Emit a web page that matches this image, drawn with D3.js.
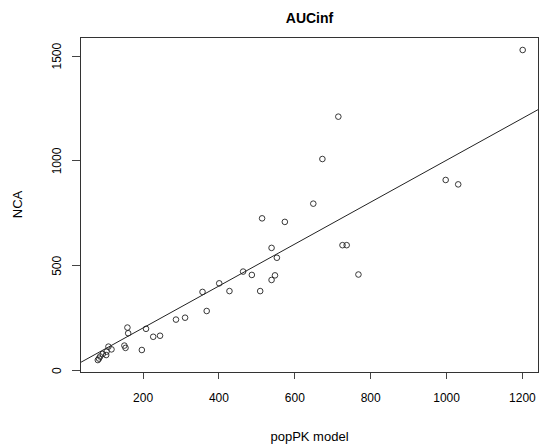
<!DOCTYPE html>
<html>
<head>
<meta charset="utf-8">
<script src="https://cdn.jsdelivr.net/npm/d3@7"></script>
<style>
  body { margin: 0; background: #fff; }
  text { font-family: "Liberation Sans", Arial, sans-serif; fill: #000; }
</style>
</head>
<body>
<div id="chart"></div>
<script>
// AUCinf: popPK model vs NCA
var popPK = [1202, 716, 674, 650, 515, 575, 999, 1032, 540, 554, 727, 738, 769, 488, 465,
             549, 540, 510, 402, 358, 429, 369, 288, 312, 160, 162, 209, 228, 246, 152,
             155, 198, 110, 118, 82, 88, 95, 104, 105, 85];
var nca   = [1527, 1209, 1007, 794, 724, 707, 907, 886, 583, 536, 596, 596, 456, 454, 470,
             452, 430, 377, 414, 373, 377, 282, 241, 250, 203, 176, 197, 159, 164, 117,
             106, 96, 112, 99, 48, 65, 77, 72, 88, 55];
var xTicks = [200, 400, 600, 800, 1000, 1200];
var yTicks = [0, 500, 1000, 1500];
var abline = {intercept: 0, slope: 1};

var W = 540, H = 445;
var box = {left: 80, right: 539, top: 37, bottom: 372};

var svg = d3.select("#chart").append("svg")
    .attr("width", W)
    .attr("height", H);

var x = d3.scaleLinear().domain([35, 1245]).range([box.left, box.right]);
var y = d3.scaleLinear().domain([-9, 1589]).range([box.bottom, box.top]);

// axes (R style: ticks outside, no axis line beyond box)
var xAxis = d3.axisBottom(x).tickValues(xTicks).tickFormat(d3.format("d"))
    .tickSize(7).tickPadding(14).tickSizeOuter(0);
var gx = svg.append("g")
    .attr("transform", "translate(0," + box.bottom + ")")
    .call(xAxis);
gx.select(".domain").remove();
gx.selectAll("text").style("font-size", "12px").attr("fill", "#000");

var yAxis = d3.axisLeft(y).tickValues(yTicks).tickFormat(d3.format("d"))
    .tickSize(8).tickSizeOuter(0);
var gy = svg.append("g")
    .attr("transform", "translate(" + box.left + ",0)")
    .call(yAxis);
gy.select(".domain").remove();
gy.selectAll("text")
    .style("font-size", "12px")
    .attr("fill", "#000")
    .attr("text-anchor", "middle")
    .attr("dy", null)
    .attr("x", null)
    .attr("transform", "translate(-19,0) rotate(-90)");

svg.selectAll(".tick line").attr("stroke", "#444").attr("shape-rendering", "crispEdges");

// identity line clipped to the box
svg.append("clipPath").attr("id", "clip")
  .append("rect")
    .attr("x", box.left).attr("y", box.top)
    .attr("width", box.right - box.left).attr("height", box.bottom - box.top);

var xd = x.domain();
svg.append("line")
    .attr("clip-path", "url(#clip)")
    .attr("x1", x(xd[0])).attr("y1", y(abline.intercept + abline.slope * xd[0]))
    .attr("x2", x(xd[1])).attr("y2", y(abline.intercept + abline.slope * xd[1]))
    .attr("stroke", "#222")
    .attr("stroke-width", 1);

// points
svg.selectAll(".pt")
    .data(popPK)
    .enter()
    .append("circle")
    .attr("class", "pt")
    .attr("cx", function (d) { return x(d); })
    .attr("cy", function (d, i) { return y(nca[i]); })
    .attr("r", 2.8)
    .attr("fill", "none")
    .attr("stroke", "#222")
    .attr("stroke-width", 0.9);

// box
svg.append("rect")
    .attr("x", box.left + 0.5).attr("y", box.top + 0.5)
    .attr("width", box.right - box.left - 1).attr("height", box.bottom - box.top)
    .attr("fill", "none")
    .attr("stroke", "#333")
    .attr("shape-rendering", "crispEdges");

// titles
svg.append("text")
    .attr("x", (box.left + box.right) / 2)
    .attr("y", 23)
    .attr("text-anchor", "middle")
    .style("font-size", "14px")
    .style("font-weight", "bold")
    .text("AUCinf");

svg.append("text")
    .attr("x", (box.left + box.right) / 2)
    .attr("y", 441)
    .attr("text-anchor", "middle")
    .style("font-size", "13px")
    .text("popPK model");

svg.append("text")
    .attr("transform", "translate(22," + (box.top + box.bottom) / 2 + ") rotate(-90)")
    .attr("text-anchor", "middle")
    .style("font-size", "13px")
    .text("NCA");
</script>
</body>
</html>
